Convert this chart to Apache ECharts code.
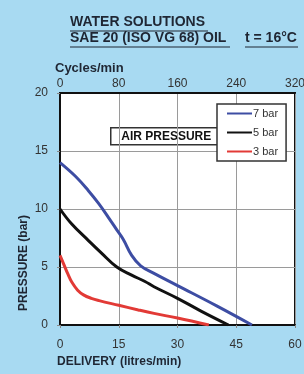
<!DOCTYPE html>
<html>
<head>
<meta charset="utf-8">
<script src="https://cdn.jsdelivr.net/npm/echarts@6/dist/echarts.min.js"></script>
<style>
  html, body { margin: 0; padding: 0; background: #a8daf2; }
  #chart { width: 304px; height: 374px; }
</style>
</head>
<body>
<div id="chart"></div>
<script>
// delivery (litres/min) vs pressure (bar)
const seriesNames = ['7 bar', '5 bar', '3 bar']
const delivery7 = [0, 4, 7.2, 9.8, 12.3, 14.5, 16.2, 18.3, 20.6, 24, 30, 40, 49]
const pressure7 = [14, 12.8, 11.6, 10.5, 9.3, 8.2, 7.35, 6.0, 5.1, 4.45, 3.4, 1.65, 0]
const delivery5 = [0, 3, 7.2, 10.6, 14.5, 18.3, 21.7, 24, 30, 36, 43]
const pressure5 = [10, 8.7, 7.3, 6.2, 5.0, 4.3, 3.75, 3.3, 2.3, 1.2, 0]
const delivery3 = [0, 1, 2, 3, 4.5, 6, 8, 10, 15, 20, 24, 30, 38]
const pressure3 = [6, 5.2, 4.4, 3.7, 3.0, 2.6, 2.3, 2.1, 1.7, 1.3, 1.0, 0.6, 0]
const deliveryTicks = [0, 15, 30, 45, 60]
const cycleTicks = [0, 80, 160, 240, 320]
const pressureTicks = [0, 5, 10, 15, 20]

const colors = ['#3d4da3', '#111111', '#e23a36']
const zip = (xs, ys) => xs.map((x, i) => [x, ys[i]])
const curves = [zip(delivery7, pressure7), zip(delivery5, pressure5), zip(delivery3, pressure3)]

const font = 'Liberation Sans, Arial, sans-serif'
const ink = '#1f2633'

const chart = echarts.init(document.getElementById('chart'))
chart.setOption({
  backgroundColor: '#a8daf2',
  animation: false,
  textStyle: { fontFamily: font },
  grid: {
    left: 60, right: 9, top: 93, bottom: 49,
    show: true,
    backgroundColor: '#ffffff',
    borderColor: '#111111',
    borderWidth: 2,
    outerBoundsMode: 'none'
  },
  legend: {
    data: seriesNames,
    orient: 'vertical',
    left: 217,
    top: 104,
    width: 70,
    padding: [4, 8, 4, 10],
    itemGap: 8,
    itemWidth: 25,
    itemHeight: 2,
    icon: 'rect',
    backgroundColor: '#ffffff',
    borderColor: '#333333',
    borderWidth: 1.5,
    textStyle: { color: '#333', fontSize: 11, fontFamily: font, padding: [0, 0, 0, -4] },
    z: 10
  },
  xAxis: [
    {
      type: 'value',
      position: 'bottom',
      min: deliveryTicks[0],
      max: deliveryTicks[deliveryTicks.length - 1],
      interval: 15,
      axisLine: { show: true, lineStyle: { color: '#111', width: 2 } },
      axisTick: { show: true, length: 3, lineStyle: { color: '#888' } },
      axisLabel: { color: '#333', fontSize: 12, margin: 14 },
      splitLine: { show: true, lineStyle: { color: '#9a9a9a', width: 1 } }
    },
    {
      type: 'value',
      position: 'top',
      min: cycleTicks[0],
      max: cycleTicks[cycleTicks.length - 1],
      interval: 80,
      axisLine: { show: true, lineStyle: { color: '#111', width: 2 } },
      axisTick: { show: false },
      axisLabel: { color: '#333', fontSize: 12, margin: 3 },
      splitLine: { show: false }
    }
  ],
  yAxis: {
    type: 'value',
    min: pressureTicks[0],
    max: pressureTicks[pressureTicks.length - 1],
    interval: 5,
    axisLine: { show: true, lineStyle: { color: '#111', width: 2 } },
    axisTick: { show: true, length: 3, lineStyle: { color: '#888' } },
    axisLabel: { color: '#333', fontSize: 12, margin: 12 },
    splitLine: { show: true, lineStyle: { color: '#9a9a9a', width: 1 } }
  },
  series: seriesNames.map((name, i) => ({
    type: 'line',
    name,
    xAxisIndex: 0,
    data: curves[i],
    smooth: 0.4,
    showSymbol: false,
    lineStyle: { color: colors[i], width: 3 },
    itemStyle: { color: colors[i] }
  })),
  graphic: [
    { type: 'text', left: 70, top: 15, style: { text: 'WATER SOLUTIONS', font: 'bold 14px ' + font, fill: ink } },
    { type: 'line', shape: { x1: 70, y1: 31, x2: 208, y2: 31 }, style: { stroke: ink, lineWidth: 1 } },
    { type: 'text', left: 70, top: 31, style: { text: 'SAE 20 (ISO VG 68) OIL', font: 'bold 14px ' + font, fill: ink } },
    { type: 'line', shape: { x1: 70, y1: 47, x2: 230, y2: 47 }, style: { stroke: ink, lineWidth: 1 } },
    { type: 'text', left: 245, top: 31, style: { text: 't = 16°C', font: 'bold 14px ' + font, fill: ink } },
    { type: 'line', shape: { x1: 245, y1: 47, x2: 298, y2: 47 }, style: { stroke: ink, lineWidth: 1 } },
    { type: 'text', left: 55, top: 62, style: { text: 'Cycles/min', font: 'bold 13px ' + font, fill: ink } },
    { type: 'text', left: 57, top: 356, style: { text: 'DELIVERY (litres/min)', font: 'bold 12px ' + font, fill: ink } },
    {
      type: 'text', x: 24, y: 263, rotation: Math.PI / 2,
      style: { text: 'PRESSURE (bar)', font: 'bold 12px ' + font, fill: ink, align: 'center', verticalAlign: 'middle' }
    },
    {
      type: 'group', left: 110, top: 127, z: 20,
      children: [
        { type: 'rect', shape: { x: 0, y: 0, width: 111, height: 17 }, style: { fill: '#fff', stroke: '#333', lineWidth: 1.5 } },
        { type: 'text', x: 55.5, y: 9, style: { text: 'AIR PRESSURE', font: 'bold 12px ' + font, fill: '#111', align: 'center', verticalAlign: 'middle' } }
      ]
    }
  ]
})
</script>
</body>
</html>
